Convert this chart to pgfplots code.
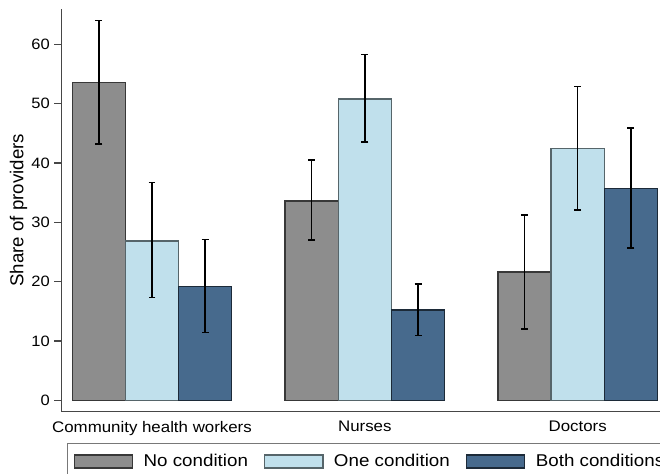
\documentclass[border=0pt]{standalone}
\usepackage{fontspec}
\setmainfont{Liberation Sans}[FakeStretch=1.1]
\newfontfamily\ylfont{Liberation Sans}
\usepackage{pgfplots}
\pgfplotsset{compat=1.18}
\usepackage{pgfplotstable}

\definecolor{barGray}{RGB}{141,141,141}
\definecolor{barLight}{RGB}{192,224,236}
\definecolor{barDark}{RGB}{71,106,141}
\definecolor{axisGray}{RGB}{70,70,70}
\definecolor{legendGray}{RGB}{120,120,120}

% share of providers (%), with upper / lower confidence distances
\pgfplotstableread{
x y ep em
0 53.6 10.4 10.4
1 33.6 6.9 6.6
2 21.6 9.6 9.6
}\nocond
\pgfplotstableread{
x y ep em
0 26.85 9.85 9.55
1 50.8 7.5 7.3
2 42.4 10.5 10.3
}\onecond
\pgfplotstableread{
x y ep em
0 19.15 7.95 7.7
1 15.2 4.45 4.3
2 35.7 10.2 10.0
}\bothcond

\pgfplotsset{
  swatch/.style={legend image code/.code={\draw[##1] (0pt,-4.8pt) rectangle (43.7pt,4.95pt);}},
  ci bars/.style={error bars/.cd, y dir=both, y explicit,
    error bar style={line width=1.2pt, black},
    error mark options={rotate=90, line width=1.2pt, black, mark size=2.6pt}},
}

\begin{document}
\begin{tikzpicture}
\path[use as bounding box] (-45.975pt,-47.025pt) rectangle (449.025pt,308.475pt);
\clip (-45.975pt,-47.025pt) rectangle (449.025pt,308.475pt);
\begin{axis}[
  at={(0pt,0pt)}, anchor=south west,
  scale only axis, width=449.025pt, height=301.5pt,
  xmin=-0.4261, xmax=2.3867, ymin=-1.85, ymax=65.9,
  ybar, bar width=0.25,
  axis x line=bottom, axis y line=left,
  axis line style={-, draw=axisGray, line width=0.9pt},
  ytick={0,10,...,60},
  ytick align=outside, major tick length=5.25pt,
  ytick style={draw=axisGray, line width=0.9pt},
  xtick={0,1,2},
  xticklabels={Community health workers, Nurses, Doctors},
  xtick style={draw=none},
  /pgf/number format/assume math mode=true,
  yticklabel style={font=\fontsize{11.25}{13}\selectfont, inner sep=3.2pt},
  xticklabel style={font=\fontsize{11.5}{13}\selectfont, inner sep=0pt, anchor=north, yshift=-4.6pt},
  ylabel={\ylfont Share of providers},
  ylabel style={font=\fontsize{14}{16}\selectfont, at={(axis description cs:-0.0713,0.5)}, anchor=center},
  legend columns=3,
  legend style={at={(rel axis cs:0,0)}, anchor=north west, xshift=4.5pt, yshift=-23.8pt,
    draw=legendGray, line width=0.9pt, inner xsep=4.3pt, inner ysep=8.15pt,
    font=\fontsize{12.8}{15}\selectfont,
    nodes={inner sep=0pt},
    /tikz/every odd column/.style={column sep=7.8pt},
    /tikz/every even column/.style={column sep=12pt}},
]
\addplot[ybar, bar shift=-0.25, fill=barGray, draw=barGray!40!black, line width=1pt, swatch, ci bars]
  table[x=x, y=y, y error plus=ep, y error minus=em] {\nocond};
\addplot[ybar, bar shift=0, fill=barLight, draw=barLight!45!black, line width=1pt, swatch, ci bars]
  table[x=x, y=y, y error plus=ep, y error minus=em] {\onecond};
\addplot[ybar, bar shift=0.25, fill=barDark, draw=barDark!40!black, line width=1pt, swatch, ci bars]
  table[x=x, y=y, y error plus=ep, y error minus=em] {\bothcond};
\legend{No condition, One condition, Both conditions}
\end{axis}
\end{tikzpicture}
\end{document}
